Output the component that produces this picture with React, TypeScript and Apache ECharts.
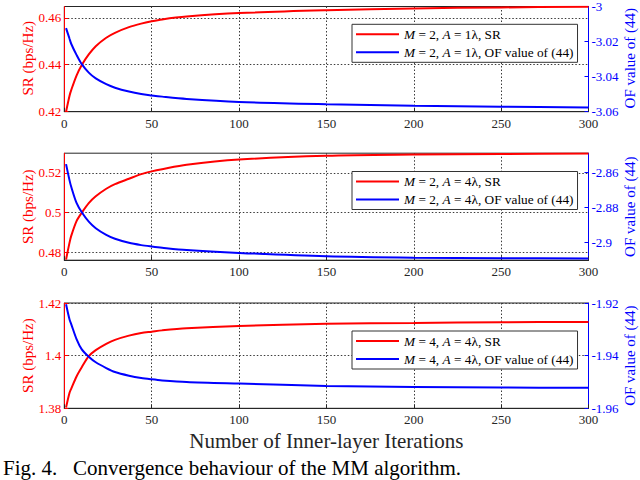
import React, { useEffect, useRef } from 'react';
import * as echarts from 'echarts';

const iterations = [1, 3, 4, 7, 10, 14, 18, 24, 29, 37, 44, 50, 56, 70, 100, 150, 200, 250, 300];

const sr1 = [0.4200, 0.4268, 0.4293, 0.4354, 0.4399, 0.4444, 0.4479, 0.4515, 0.4536, 0.4560, 0.4575, 0.4585, 0.4593, 0.4605, 0.4620, 0.4632, 0.4640, 0.4644, 0.4647];
const of1 = [-3.0123, -3.0184, -3.0214, -3.0276, -3.0329, -3.0377, -3.0410, -3.0443, -3.0463, -3.0485, -3.0499, -3.0507, -3.0514, -3.0527, -3.0544, -3.0557, -3.0566, -3.0572, -3.0576];

const sr2 = [0.4765, 0.4850, 0.4885, 0.4958, 0.5000, 0.5048, 0.5082, 0.5120, 0.5143, 0.5170, 0.5193, 0.5207, 0.5218, 0.5240, 0.5266, 0.5285, 0.5291, 0.5294, 0.5297];
const of2 = [-2.8555, -2.8647, -2.8685, -2.8775, -2.8828, -2.8881, -2.8918, -2.8956, -2.8978, -2.9001, -2.9014, -2.9022, -2.9029, -2.9042, -2.9058, -2.9077, -2.9085, -2.9088, -2.9090];

const sr3 = [1.3803, 1.3859, 1.3875, 1.3921, 1.3956, 1.3998, 1.4021, 1.4045, 1.4060, 1.4076, 1.4086, 1.4091, 1.4096, 1.4104, 1.4113, 1.4121, 1.4124, 1.4127, 1.4128];
const of3 = [-1.9205, -1.9263, -1.9281, -1.9337, -1.9376, -1.9404, -1.9425, -1.9447, -1.9462, -1.9476, -1.9485, -1.9490, -1.9494, -1.9500, -1.9506, -1.9515, -1.9519, -1.9521, -1.9522];

const xTicks = [0, 50, 100, 150, 200, 250, 300];
const srTicks = [[0.42, 0.44, 0.46], [0.48, 0.5, 0.52], [1.38, 1.4, 1.42]];
const ofTicks = [[-3.06, -3.04, -3.02, -3], [-2.9, -2.88, -2.86], [-1.96, -1.94, -1.92]];
const srRange = [[0.42, 0.4648], [0.4762, 0.5298], [1.38, 1.42]];
const ofRange = [[-3.06, -3], [-2.90995, -2.8493], [-1.96, -1.92]];

const srNames = ['M = 2, A = 1λ, SR', 'M = 2, A = 4λ, SR', 'M = 4, A = 4λ, SR'];
const ofNames = ['M = 2, A = 1λ, OF value of (44)', 'M = 2, A = 4λ, OF value of (44)', 'M = 4, A = 4λ, OF value of (44)'];
const srAxisName = 'SR (bps/Hz)';
const ofAxisName = 'OF value of (44)';
const xAxisName = 'Number of Inner-layer Iterations';
const caption = 'Fig. 4.   Convergence behaviour of the MM algorithm.';

const srSeries = [sr1, sr2, sr3];
const ofSeries = [of1, of2, of3];

const FONT = '"Liberation Serif", "Times New Roman", serif';
const RED = '#ff0000';
const BLUE = '#0000ff';
const DARK = '#262626';

const gridBoxes = [
  { top: 4.7, height: 107 },
  { top: 153.2, height: 107 },
  { top: 303, height: 105.3 },
];
const legendTops = [24.3, 171.5, 331];

const fmt = (v: number) => String(parseFloat(v.toFixed(4)));

export default function App() {
  const ref = useRef<HTMLDivElement>(null);
  useEffect(() => {
    if (!ref.current) return;
    const chart = echarts.init(ref.current, null, { renderer: 'svg' });

    const grid = gridBoxes.map((g) => ({
      left: 64.3,
      right: 51.5,
      top: g.top,
      height: g.height,
      show: true,
      borderColor: DARK,
      borderWidth: 1,
      backgroundColor: '#fff',
    }));

    const xAxis = gridBoxes.map((_, i) => ({
      type: 'value',
      gridIndex: i,
      min: 0,
      max: 300,
      interval: 50,
      name: i === 2 ? xAxisName : '',
      nameLocation: 'middle',
      nameGap: 22,
      nameMoveOverlap: false,
      nameTextStyle: { fontFamily: FONT, fontSize: 21, color: DARK },
      axisLine: { show: true, lineStyle: { color: DARK, width: 1 } },
      axisTick: { show: true, inside: true, length: 4, lineStyle: { color: DARK } },
      axisLabel: { fontFamily: FONT, fontSize: 13, color: DARK, margin: 5, customValues: xTicks, formatter: (v: number) => fmt(v) },
      splitLine: { show: true, lineStyle: { color: '#3a3a3a', type: [1.5, 2], width: 1 } },
    }));

    const yAxis: any[] = [];
    gridBoxes.forEach((_, i) => {
      yAxis.push({
        type: 'value',
        gridIndex: i,
        position: 'left',
        min: srRange[i][0],
        max: srRange[i][1],
        axisLine: { show: true, lineStyle: { color: RED, width: 1 } },
        axisTick: { show: true, inside: true, length: 4, lineStyle: { color: RED }, customValues: srTicks[i] },
        axisLabel: { fontFamily: FONT, fontSize: 13, color: RED, margin: 3, customValues: srTicks[i], formatter: (v: number) => fmt(v) },
        splitLine: { show: true, lineStyle: { color: '#3a3a3a', type: [1.5, 2], width: 1 }, customValues: srTicks[i] },
      });
      yAxis.push({
        type: 'value',
        gridIndex: i,
        position: 'right',
        min: ofRange[i][0],
        max: ofRange[i][1],
        axisLine: { show: true, lineStyle: { color: BLUE, width: 1 } },
        axisTick: { show: true, inside: true, length: 4, lineStyle: { color: BLUE }, customValues: ofTicks[i] },
        axisLabel: { fontFamily: FONT, fontSize: 13, color: BLUE, margin: 3, customValues: ofTicks[i], formatter: (v: number) => fmt(v) },
        splitLine: { show: false },
      });
    });

    const series: any[] = [];
    gridBoxes.forEach((_, i) => {
      series.push({
        type: 'line',
        name: srNames[i],
        xAxisIndex: i,
        yAxisIndex: 2 * i,
        data: iterations.map((x, k) => [x, srSeries[i][k]]),
        showSymbol: false,
        smooth: 0.3,
        lineStyle: { color: RED, width: 2 },
        itemStyle: { color: RED },
        z: 3,
      });
      series.push({
        type: 'line',
        name: ofNames[i],
        xAxisIndex: i,
        yAxisIndex: 2 * i + 1,
        data: iterations.map((x, k) => [x, ofSeries[i][k]]),
        showSymbol: false,
        smooth: 0.3,
        lineStyle: { color: BLUE, width: 2 },
        itemStyle: { color: BLUE },
        z: 3,
      });
    });

    const legend = gridBoxes.map((_, i) => ({
      data: [srNames[i], ofNames[i]],
      orient: 'vertical',
      left: 352,
      top: legendTops[i],
      icon: 'rect',
      itemWidth: 43,
      itemHeight: 2,
      itemGap: 2,
      padding: [2, 4, 2, 4],
      selectedMode: false,
      backgroundColor: '#fff',
      borderColor: '#333',
      borderWidth: 1,
      formatter: (name: string) => name.replace(/^M/, '{i|M}').replace(', A', ', {i|A}'),
      textStyle: {
        fontFamily: FONT,
        fontSize: 13.3,
        color: '#000',
        lineHeight: 16,
        rich: { i: { fontFamily: FONT, fontSize: 13.3, fontStyle: 'italic', color: '#000', lineHeight: 16 } },
      },
    }));

    const plotLeft = 64.3;
    const plotRight = 640 - 51.5;
    const graphic: any[] = [];
    gridBoxes.forEach((g) => {
      const cy = g.top + g.height / 2;
      graphic.push({
        type: 'text',
        x: plotLeft - 36.3,
        y: cy,
        rotation: Math.PI / 2,
        style: { text: srAxisName, font: `15px ${FONT}`, fill: RED, align: 'center', verticalAlign: 'middle' },
      });
      graphic.push({
        type: 'text',
        x: plotRight + 41.5,
        y: cy,
        rotation: Math.PI / 2,
        style: { text: ofAxisName, font: `15px ${FONT}`, fill: BLUE, align: 'center', verticalAlign: 'middle' },
      });
    });
    graphic.push({
      type: 'text',
      left: 3,
      top: 457,
      style: { text: caption, font: `21px ${FONT}`, fill: '#000' },
    });

    chart.setOption({
      animation: false,
      backgroundColor: '#fff',
      grid,
      xAxis,
      yAxis,
      series,
      legend,
      graphic,
    });
    return () => chart.dispose();
  }, []);
  return <div ref={ref} style={{ position: 'fixed', left: 0, top: 0, width: 640, height: 480 }} />;
}
